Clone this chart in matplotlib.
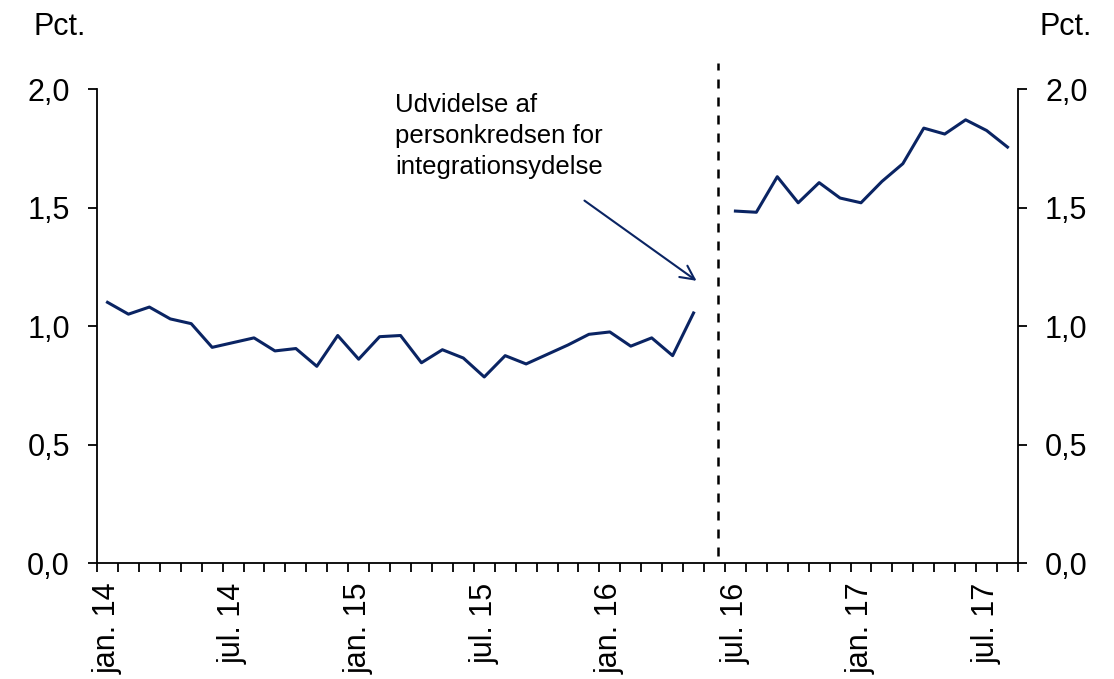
import matplotlib
matplotlib.use("Agg")
import matplotlib.pyplot as plt
import numpy as np

plt.rcParams['font.family'] = ['Liberation Sans', 'DejaVu Sans']

# monthly categories jan. 14 .. aug. 17
month_names = ["jan.", "feb.", "mar.", "apr.", "maj", "jun.",
               "jul.", "aug.", "sep.", "okt.", "nov.", "dec."]
years = ["14", "15", "16", "17"]
months = [f"{m} {y}" for y in years for m in month_names][:44]

# share (pct.), jan. 14 - maj 16
before = [1.10, 1.05, 1.08, 1.03, 1.01, 0.91, 0.93, 0.95, 0.895, 0.905,
          0.83, 0.96, 0.86, 0.955, 0.96, 0.845, 0.90, 0.865, 0.785, 0.875,
          0.84, 0.88, 0.92, 0.965, 0.975, 0.915, 0.95, 0.875, 1.055]
# jun. 16 missing
gap = [np.nan]
# jul. 16 - aug. 17
after = [1.485, 1.48, 1.63, 1.52, 1.605, 1.54, 1.52, 1.61, 1.685, 1.835,
         1.81, 1.87, 1.825, 1.755]

values = np.array(before + gap + after)
yticks = [0.0, 0.5, 1.0, 1.5, 2.0]
ytick_labels = ["0,0", "0,5", "1,0", "1,5", "2,0"]
break_month = "jun. 16"
note = "Udvidelse af\npersonkredsen for\nintegrationsydelse"

navy = "#0a2463"
fs = 22

fig = plt.figure(figsize=(11.14, 6.79), dpi=100)
ax = fig.add_axes([0.0871, 0.1708, 0.8267, 0.6981])
x = np.arange(len(months))
ax.plot(x, values, color=navy, lw=2.2)

ax.set_xlim(-0.5, len(months) - 0.5)
ax.set_ylim(0, 2.0)

# category boundaries as ticks, labels every 6th month
ax.set_xticks(np.arange(len(months) + 1) - 0.5)
ax.set_xticklabels([])
lab_idx = list(range(0, len(months), 6))
ax.set_xticks(lab_idx, minor=True)
ax.set_xticklabels([months[i] for i in lab_idx], minor=True,
                   rotation=90, fontsize=fs, va='top', ha='center')
ax.tick_params(axis='x', which='major', length=6.5, width=1.3, direction='out')
ax.tick_params(axis='x', which='minor', length=0, pad=14)

ax.set_yticks(yticks)
ax.set_yticklabels(ytick_labels, fontsize=fs)
ax.tick_params(axis='y', which='both', length=6.5, width=1.3, pad=13,
               left=True, right=True, labelleft=True, labelright=True)

for s in ['left', 'right', 'bottom']:
    ax.spines[s].set_linewidth(1.3)
ax.spines['top'].set_visible(False)

# reform break
bx = months.index(break_month) + 0.15
ax.plot([bx, bx], [0.03, 2.11], color='black', lw=1.8,
        linestyle=(0, (3.6, 3.6)), clip_on=False)

ax.text(13.75, 1.985, note, fontsize=18.5, va='top', ha='left',
        linespacing=1.38)
ax.annotate("", xy=(28.25, 1.184), xytext=(22.68, 1.536),
            arrowprops=dict(arrowstyle='->', color=navy, lw=1.5,
                            mutation_scale=25))

fig.text(0.054, 0.96, "Pct.", fontsize=fs, ha='center', va='center')
fig.text(0.957, 0.96, "Pct.", fontsize=fs, ha='center', va='center')

fig.savefig("out.png", dpi=100)
